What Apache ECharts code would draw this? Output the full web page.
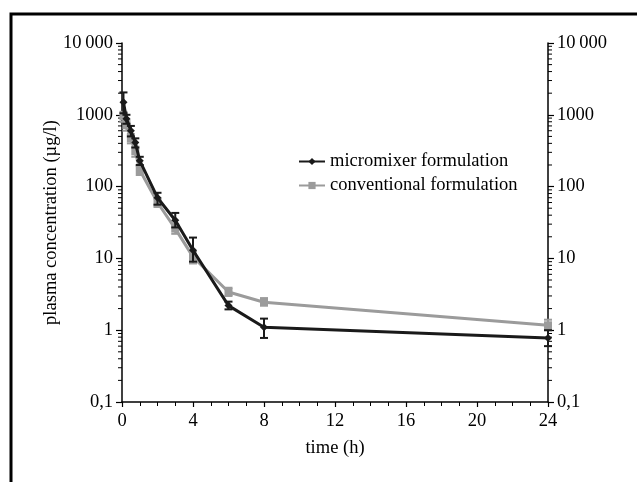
<!DOCTYPE html>
<html lang="en">
<head>
    <meta charset="UTF-8">
    <title>Plasma concentration</title>
    <script src="https://cdn.jsdelivr.net/npm/echarts@6.0.0/dist/echarts.min.js"></script>
</head>
<body style="margin:0;background:#fff;">
    <div id="chart" style="width:637px;height:482px;"></div>
    <script>
        // sampling times (h)
        var times = [0.083, 0.25, 0.5, 0.75, 1, 2, 3, 4, 6, 8, 24];

        // micromixer formulation (black)
        var microMean = [1500, 880, 600, 410, 230, 70, 34, 13, 2.2, 1.1, 0.78];
        var microLow  = [1050, 750, 500, 350, 200, 56, 27, 9, 1.95, 0.78, 0.6];
        var microHigh = [2050, 1000, 700, 470, 260, 82, 43, 19.5, 2.5, 1.45, 1.0];

        // conventional formulation (grey)
        var convMean = [950, 720, 470, 310, 170, 60, 26, 10.5, 3.4, 2.45, 1.17];
        var convLow  = [800, 600, 400, 260, 145, 52, 22, 8.5, 3.0, 2.2, 1.0];
        var convHigh = [1100, 850, 540, 360, 195, 68, 30, 12.5, 3.9, 2.8, 1.4];

        var xTicks = [0, 4, 8, 12, 16, 20, 24];

        var font = '"Liberation Serif", "Times New Roman", serif';
        var fs = 18.5;

        // minor ticks of the log axis: 2..9 x 10^k
        var minorVals = [];
        for (var k = -1; k < 4; k++) {
            for (var m = 2; m < 10; m++) minorVals.push(m * Math.pow(10, k));
        }

        function pairs(ys) {
            return times.map(function (t, i) { return [t, ys[i]]; });
        }
        function bars(lo, hi) {
            return times.map(function (t, i) { return [t, lo[i], hi[i]]; });
        }

        function errRender(color) {
            return function (params, api) {
                var p1 = api.coord([api.value(0), api.value(1)]);
                var p2 = api.coord([api.value(0), api.value(2)]);
                var w = 4;
                var st = { stroke: color, lineWidth: 2 };
                return {
                    type: 'group',
                    children: [
                        { type: 'line', shape: { x1: p1[0], y1: p1[1], x2: p2[0], y2: p2[1] }, style: st },
                        { type: 'line', shape: { x1: p1[0] - w, y1: p1[1], x2: p1[0] + w, y2: p1[1] }, style: st },
                        { type: 'line', shape: { x1: p2[0] - w, y1: p2[1], x2: p2[0] + w, y2: p2[1] }, style: st }
                    ]
                };
            };
        }

        function labelFmt(v) {
            if (v >= 10000) return '10\u2009000';
            if (v < 1) return '0,1';
            return String(Math.round(v));
        }

        var chart = echarts.init(document.getElementById('chart'));

        var yBase = {
            type: 'log',
            logBase: 10,
            min: 0.1,
            max: 10000,
            axisLine: { show: true, lineStyle: { color: '#000', width: 1.5 } },
            axisTick: { show: true, inside: false, length: 6, lineStyle: { color: '#000', width: 1.2 } },
            splitLine: { show: false },
            axisLabel: { color: '#000', fontFamily: font, fontSize: fs, margin: 9, formatter: labelFmt }
        };

        var option = {
            animation: false,
            backgroundColor: '#fff',
            graphic: [{
                type: 'rect',
                shape: { x: 11, y: 14, width: 700, height: 600 },
                style: { fill: 'none', stroke: '#000', lineWidth: 3 },
                silent: true
            }],
            grid: { left: 122, right: 89, top: 43, bottom: 80 },
            legend: {
                left: 293,
                top: 147,
                orient: 'vertical',
                itemWidth: 26,
                itemHeight: 9,
                itemGap: 5,
                data: ['micromixer formulation', 'conventional formulation'],
                textStyle: { color: '#000', fontFamily: font, fontSize: fs, lineHeight: 18 }
            },
            xAxis: {
                type: 'value',
                min: 0,
                max: 24,
                interval: 4,
                name: 'time (h)',
                nameLocation: 'middle',
                nameGap: 37,
                nameTextStyle: { color: '#000', fontFamily: font, fontSize: fs },
                axisLine: { lineStyle: { color: '#000', width: 1.5 } },
                axisTick: { length: 5, lineStyle: { color: '#000', width: 1.2 } },
                minorTick: { show: true, splitNumber: 4, length: 4, lineStyle: { color: '#000', width: 1 } },
                splitLine: { show: false },
                axisLabel: {
                    color: '#000', fontFamily: font, fontSize: fs, margin: 10,
                    customValues: xTicks
                }
            },
            yAxis: [
                Object.assign({}, yBase, {
                    position: 'left',
                    name: 'plasma concentration (\u00b5g/l)',
                    nameLocation: 'middle',
                    nameGap: 61,
                    nameMoveOverlap: false,
                    nameTextStyle: { color: '#000', fontFamily: font, fontSize: fs }
                }),
                Object.assign({}, yBase, { position: 'right' })
            ],
            series: [
                {
                    name: 'minor ticks',
                    type: 'custom',
                    silent: true,
                    data: minorVals.map(function (v) { return [v]; }),
                    encode: { x: -1, y: 0 },
                    renderItem: function (params, api) {
                        var a = api.coord([0, api.value(0)]);
                        var b = api.coord([24, api.value(0)]);
                        var st = { stroke: '#000', lineWidth: 1 };
                        return {
                            type: 'group',
                            children: [
                                { type: 'line', shape: { x1: a[0] - 4, y1: a[1], x2: a[0], y2: a[1] }, style: st },
                                { type: 'line', shape: { x1: b[0], y1: b[1], x2: b[0] + 4, y2: b[1] }, style: st }
                            ]
                        };
                    },
                    z: 1
                },
                {
                    name: 'conventional error',
                    type: 'custom',
                    data: bars(convLow, convHigh),
                    renderItem: errRender('#9b9b9b'),
                    z: 2
                },
                {
                    name: 'conventional formulation',
                    type: 'line',
                    data: pairs(convMean),
                    symbol: 'rect',
                    symbolSize: 8,
                    color: '#9b9b9b',
                    lineStyle: { color: '#9b9b9b', width: 3 },
                    itemStyle: { color: '#9b9b9b' },
                    z: 3
                },
                {
                    name: 'micromixer error',
                    type: 'custom',
                    data: bars(microLow, microHigh),
                    renderItem: errRender('#1a1a1a'),
                    z: 4
                },
                {
                    name: 'micromixer formulation',
                    type: 'line',
                    data: pairs(microMean),
                    symbol: 'diamond',
                    symbolSize: 8,
                    color: '#1a1a1a',
                    lineStyle: { color: '#1a1a1a', width: 3 },
                    itemStyle: { color: '#1a1a1a' },
                    z: 5
                }
            ]
        };

        chart.setOption(option);
    </script>
</body>
</html>
